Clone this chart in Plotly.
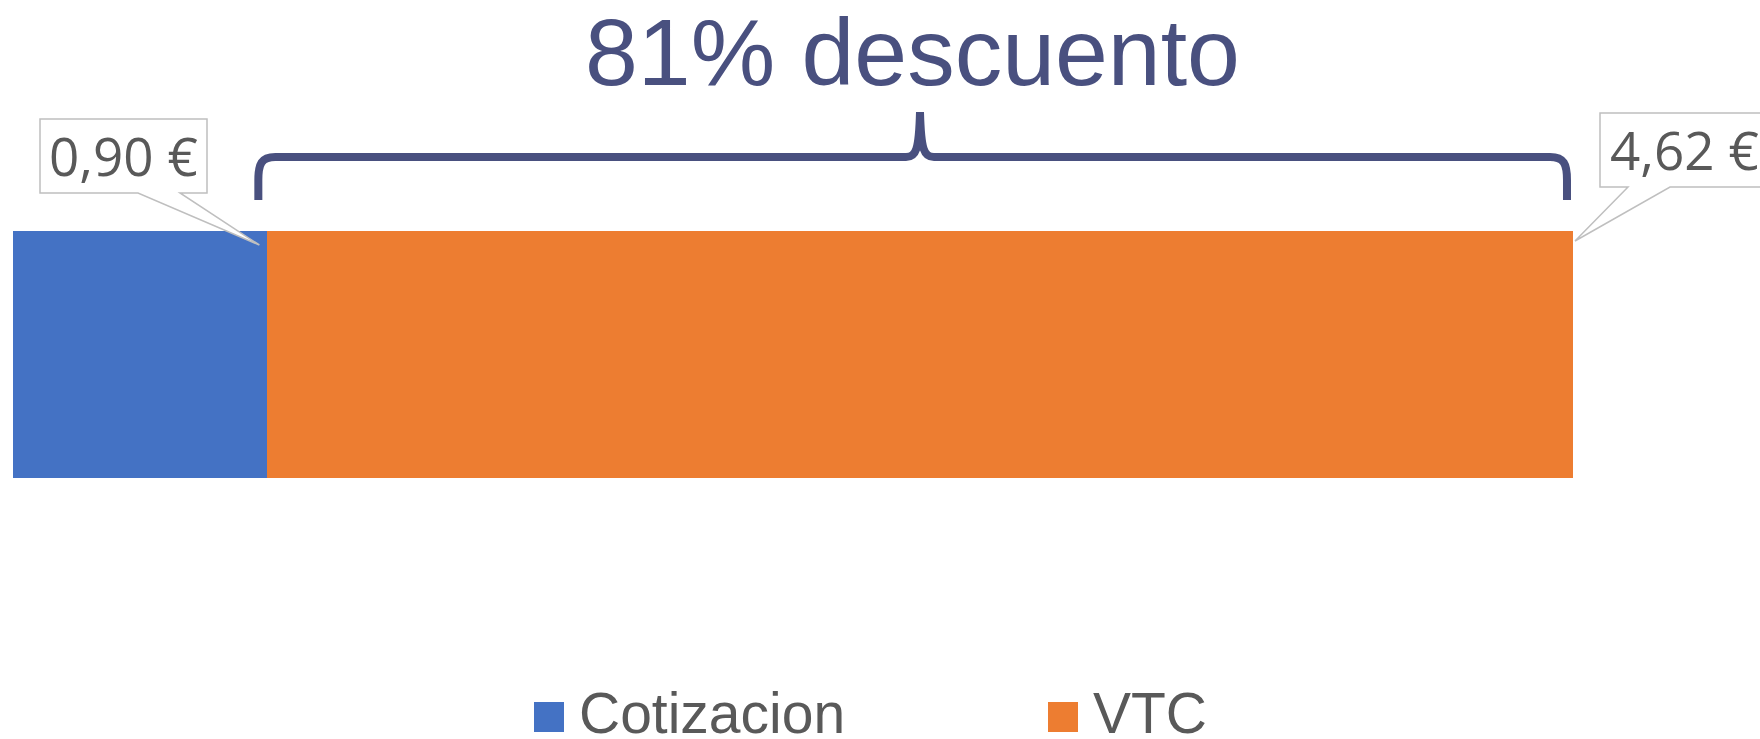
import plotly.graph_objects as go

series = ["Cotizacion", "VTC"]
values = [0.90, 4.62]
colors = ["#4472C4", "#ED7D31"]
title_text = "81% descuento"

# plot area in pixels (bar fills it exactly)
L, R, T, B = 13, 1573, 231, 478
total = sum(values)

BRACE = "#49507F"
GREY_TXT = "#595959"
BOX_LINE = "#BFBFBF"


def px(x, y):
    # pixel position -> paper coordinates
    return (x - L) / (R - L), (B - y) / (B - T)


def svg_path(segments, close=False):
    out = []
    for cmd, pts in segments:
        out.append(cmd + " " + " ".join("%.5f,%.5f" % px(*p) for p in pts))
    s = " ".join(out)
    return s + " Z" if close else s


def euro(v):
    return ("%.2f" % v).replace(".", ",") + " €"


fig = go.Figure()
for name, v, c in zip(series, values, colors):
    fig.add_trace(
        go.Bar(
            y=[""],
            x=[v],
            name=name,
            orientation="h",
            marker=dict(color=c, line=dict(width=0)),
            showlegend=False,
        )
    )

shapes = []
annotations = []

# brace over the VTC bar
x_blue = L + values[0] / total * (R - L)
xl, xr = x_blue - 9, R - 6
cusp = 920
brace = [
    ("M", [(xl, 200)]),
    ("L", [(xl, 180)]),
    ("C", [(xl, 164), (xl + 3, 157), (xl + 17, 157)]),
    ("L", [(cusp - 14, 157)]),
    ("C", [(cusp - 4, 157), (cusp - 1, 150), (cusp, 112)]),
    ("C", [(cusp + 1, 150), (cusp + 4, 157), (cusp + 14, 157)]),
    ("L", [(xr - 17, 157)]),
    ("C", [(xr - 3, 157), (xr, 164), (xr, 180)]),
    ("L", [(xr, 200)]),
]
shapes.append(
    dict(type="path", xref="paper", yref="paper", path=svg_path(brace),
         line=dict(color=BRACE, width=8), layer="above")
)

# callouts with data labels
left_pts = [(40, 119), (207, 119), (207, 193), (180, 193), (x_blue - 8, 245), (138, 193), (40, 193)]
right_pts = [(1600, 113), (1768, 113), (1768, 187), (1670, 187), (R + 2, 241), (1628, 187), (1600, 187)]
for pts in (left_pts, right_pts):
    segs = [("M", [pts[0]])] + [("L", [p]) for p in pts[1:]]
    shapes.append(
        dict(type="path", xref="paper", yref="paper", path=svg_path(segs, close=True),
             fillcolor="white", line=dict(color=BOX_LINE, width=1.5), layer="above")
    )

for v, (cx, cy) in zip(values, [(123.5, 156), (1684, 150)]):
    x, y = px(cx, cy)
    annotations.append(
        dict(text=euro(v), x=x, y=y, xref="paper", yref="paper", showarrow=False,
             xanchor="center", yanchor="middle",
             font=dict(family="Open Sans", size=53, color=GREY_TXT))
    )

# title
x, y = px(913, 52)
annotations.append(
    dict(text=title_text, x=x, y=y, xref="paper", yref="paper", showarrow=False,
         xanchor="center", yanchor="middle",
         font=dict(family="Liberation Sans", size=95, color=BRACE))
)

# legend drawn by hand (large swatches)
for name, c, sx in zip(series, colors, [534, 1048]):
    x0, y0 = px(sx, 702)
    x1, y1 = px(sx + 30, 732)
    shapes.append(dict(type="rect", xref="paper", yref="paper", x0=x0, y0=y0, x1=x1, y1=y1,
                       fillcolor=c, line=dict(width=0)))
    x, y = px(sx + 43, 713)
    annotations.append(
        dict(text=name, x=x, y=y, xref="paper", yref="paper", showarrow=False,
             xanchor="left", yanchor="middle",
             font=dict(family="Liberation Sans", size=57, color=GREY_TXT))
    )

fig.update_layout(
    barmode="stack",
    bargap=0,
    width=1760,
    height=739,
    margin=dict(l=L, r=1760 - R, t=T, b=739 - B, pad=0),
    plot_bgcolor="white",
    paper_bgcolor="white",
    xaxis=dict(range=[0, total], visible=False, fixedrange=True),
    yaxis=dict(range=[-0.5, 0.5], visible=False, fixedrange=True),
    shapes=shapes,
    annotations=annotations,
    showlegend=False,
)

fig.write_html(
    "out.html",
    config=dict(displayModeBar=False),
    post_script="document.body.style.margin = '0';",
)
